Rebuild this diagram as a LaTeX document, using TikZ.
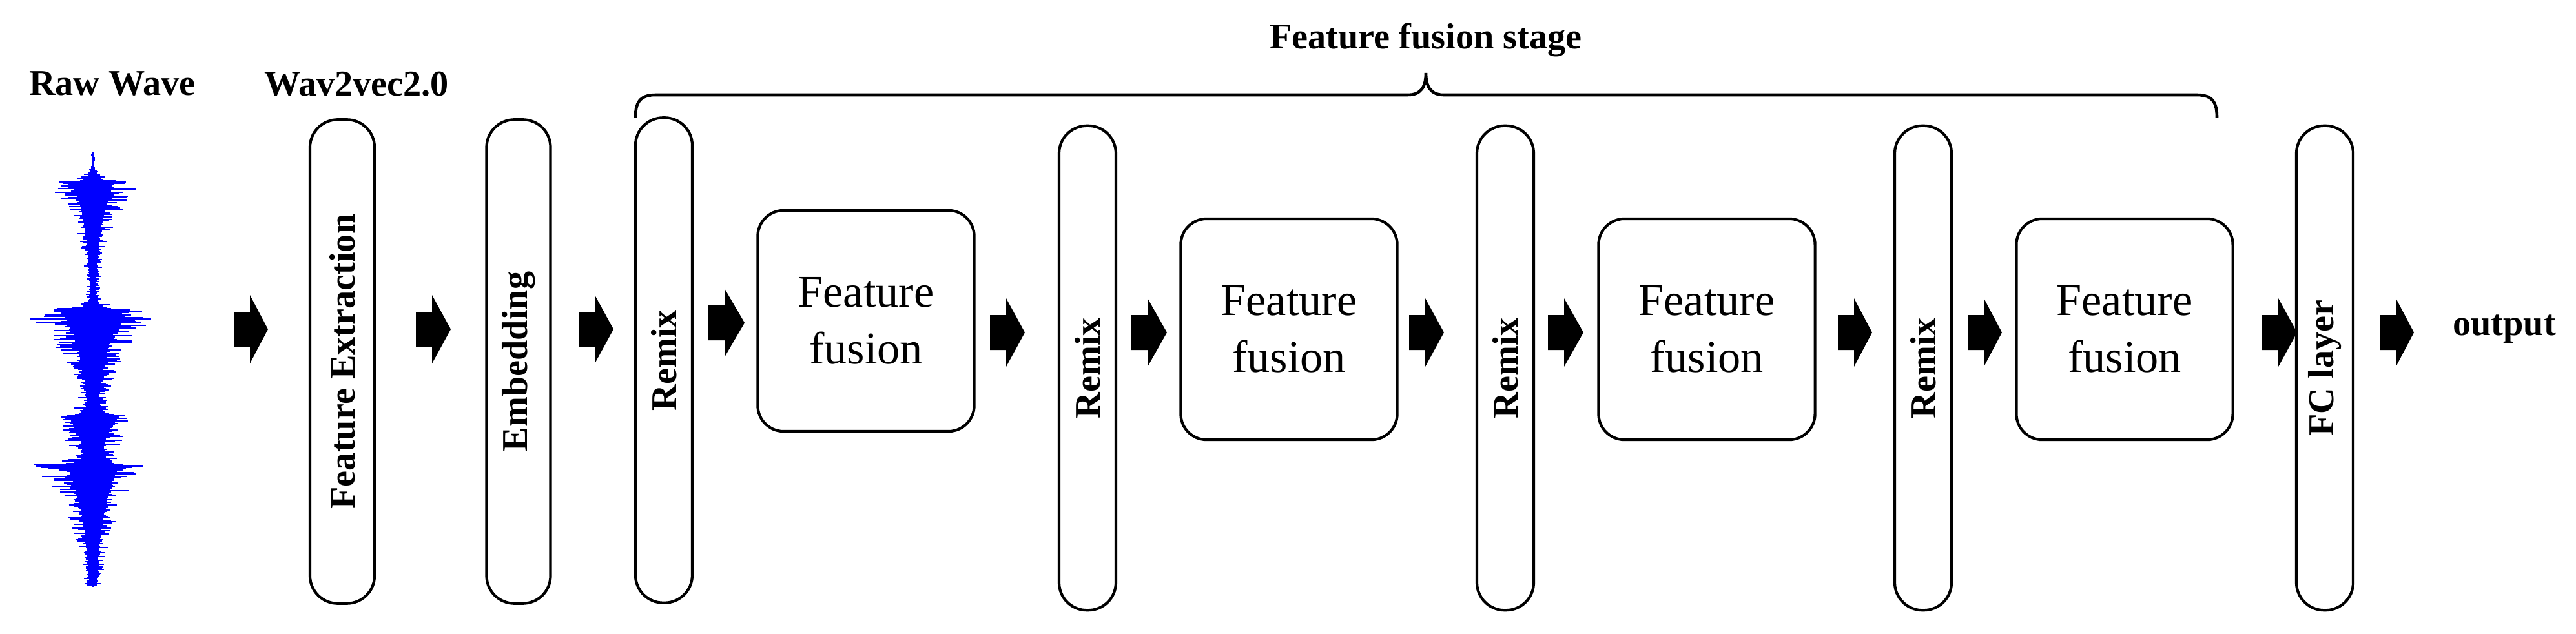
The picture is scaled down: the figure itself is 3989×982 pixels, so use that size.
\documentclass[tikz,border=0pt]{standalone}
\usepackage{fontspec}
\setmainfont{Liberation Serif}
\begin{document}
\begin{tikzpicture}[x=0.01cm,y=-0.01cm,
  pill/.style={draw,line width=1.2pt,rounded corners=0.43cm,minimum width=0.88cm,minimum height=7.5cm,inner sep=0pt},
  box/.style={draw,line width=1.2pt,rounded corners=0.4cm,minimum width=3.35cm,minimum height=3.42cm,align=center,font=\fontsize{20}{25}\selectfont},
  lab/.style={font=\bfseries\fontsize{16}{19}\selectfont},
  vlab/.style={font=\bfseries\fontsize{16}{19}\selectfont,rotate=90}]
\useasboundingbox (0,0) rectangle (3989,982);
% waveform
\pgfmathsetseed{7}
\foreach \yy in {240,242,...,906}{
  \pgfmathsetmacro{\env}{3
   + 75*exp(max(-12,-max(0,\yy-285)/70-max(0,285-\yy)/8))
   + 110*exp(max(-12,-max(0,\yy-482)/80-max(0,482-\yy)/6))
   + 80*exp(max(-12,-max(0,\yy-645)/45-max(0,645-\yy)/6))
   + 80*exp(max(-12,-max(0,\yy-720)/90-max(0,720-\yy)/6))}
  \pgfmathsetmacro{\wl}{\env*(0.4+0.6*rnd^2)}
  \pgfmathsetmacro{\wr}{\env*(0.4+0.6*rnd^2)}
  \draw[blue,line width=0.7pt] (144-\wl,\yy) -- (144+\wr,\yy);
}
\draw[blue,line width=1pt] (144,236) -- (144,909);
\node[lab] (raw) at (174,130) {Raw Wave};
\node[lab] (w2v) at (552,130) {Wav2vec2.0};
% pills
\node[pill,minimum width=1cm,minimum height=7.49cm] (fe) at (530,560) {};
\node[vlab] at (fe) {Feature Extraction};
\node[pill,minimum width=0.99cm,minimum height=7.49cm] (emb) at (803,560) {};
\node[vlab] at (emb) {Embedding};
\node[pill,minimum height=7.51cm] (r1) at (1028,558) {};
\node[vlab] at (r1) {Remix};
\node[pill] (r2) at (1684,570) {};
\node[vlab] at (r2) {Remix};
\node[pill] (r3) at (2331,570) {};
\node[vlab] at (r3) {Remix};
\node[pill] (r4) at (2978,570) {};
\node[vlab] at (r4) {Remix};
\node[pill] (fc) at (3600,570) {};
\node[vlab] at (fc) {FC layer};
% boxes
\node[box] (f1) at (1341,497) {Feature\\fusion};
\node[box] (f2) at (1996,510) {Feature\\fusion};
\node[box] (f3) at (2643,510) {Feature\\fusion};
\node[box] (f4) at (3290,510) {Feature\\fusion};
\node[lab] (out) at (3878,510) {output};
% block arrows
\newcommand{\blkarrow}[3]{\fill (#1,#3-27) -- (#1+25,#3-27) -- (#1+25,#3-53) -- (#2,#3) -- (#1+25,#3+53) -- (#1+25,#3+27) -- (#1,#3+27) -- cycle;}
\blkarrow{362}{415}{510}
\blkarrow{644}{698}{510}
\blkarrow{896}{950}{510}
\blkarrow{1097}{1153}{500}
\blkarrow{1533}{1587}{515}
\blkarrow{1752}{1807}{515}
\blkarrow{2182}{2236}{515}
\blkarrow{2397}{2452}{515}
\blkarrow{2846}{2899}{515}
\blkarrow{3047}{3100}{515}
\blkarrow{3503}{3557}{515}
\blkarrow{3685}{3738}{515}
% brace
\draw[line width=1.3pt] (984,182) .. controls (984,160) and (990,147) .. (1015,147) -- (2180,147)
  .. controls (2200,147) and (2208,135) .. (2208,113)
  .. controls (2208,135) and (2216,147) .. (2236,147) -- (3402,147)
  .. controls (3427,147) and (3433,160) .. (3433,182);
\node[lab] (title) at (2208,62) {Feature fusion stage};
\end{tikzpicture}
\end{document}
